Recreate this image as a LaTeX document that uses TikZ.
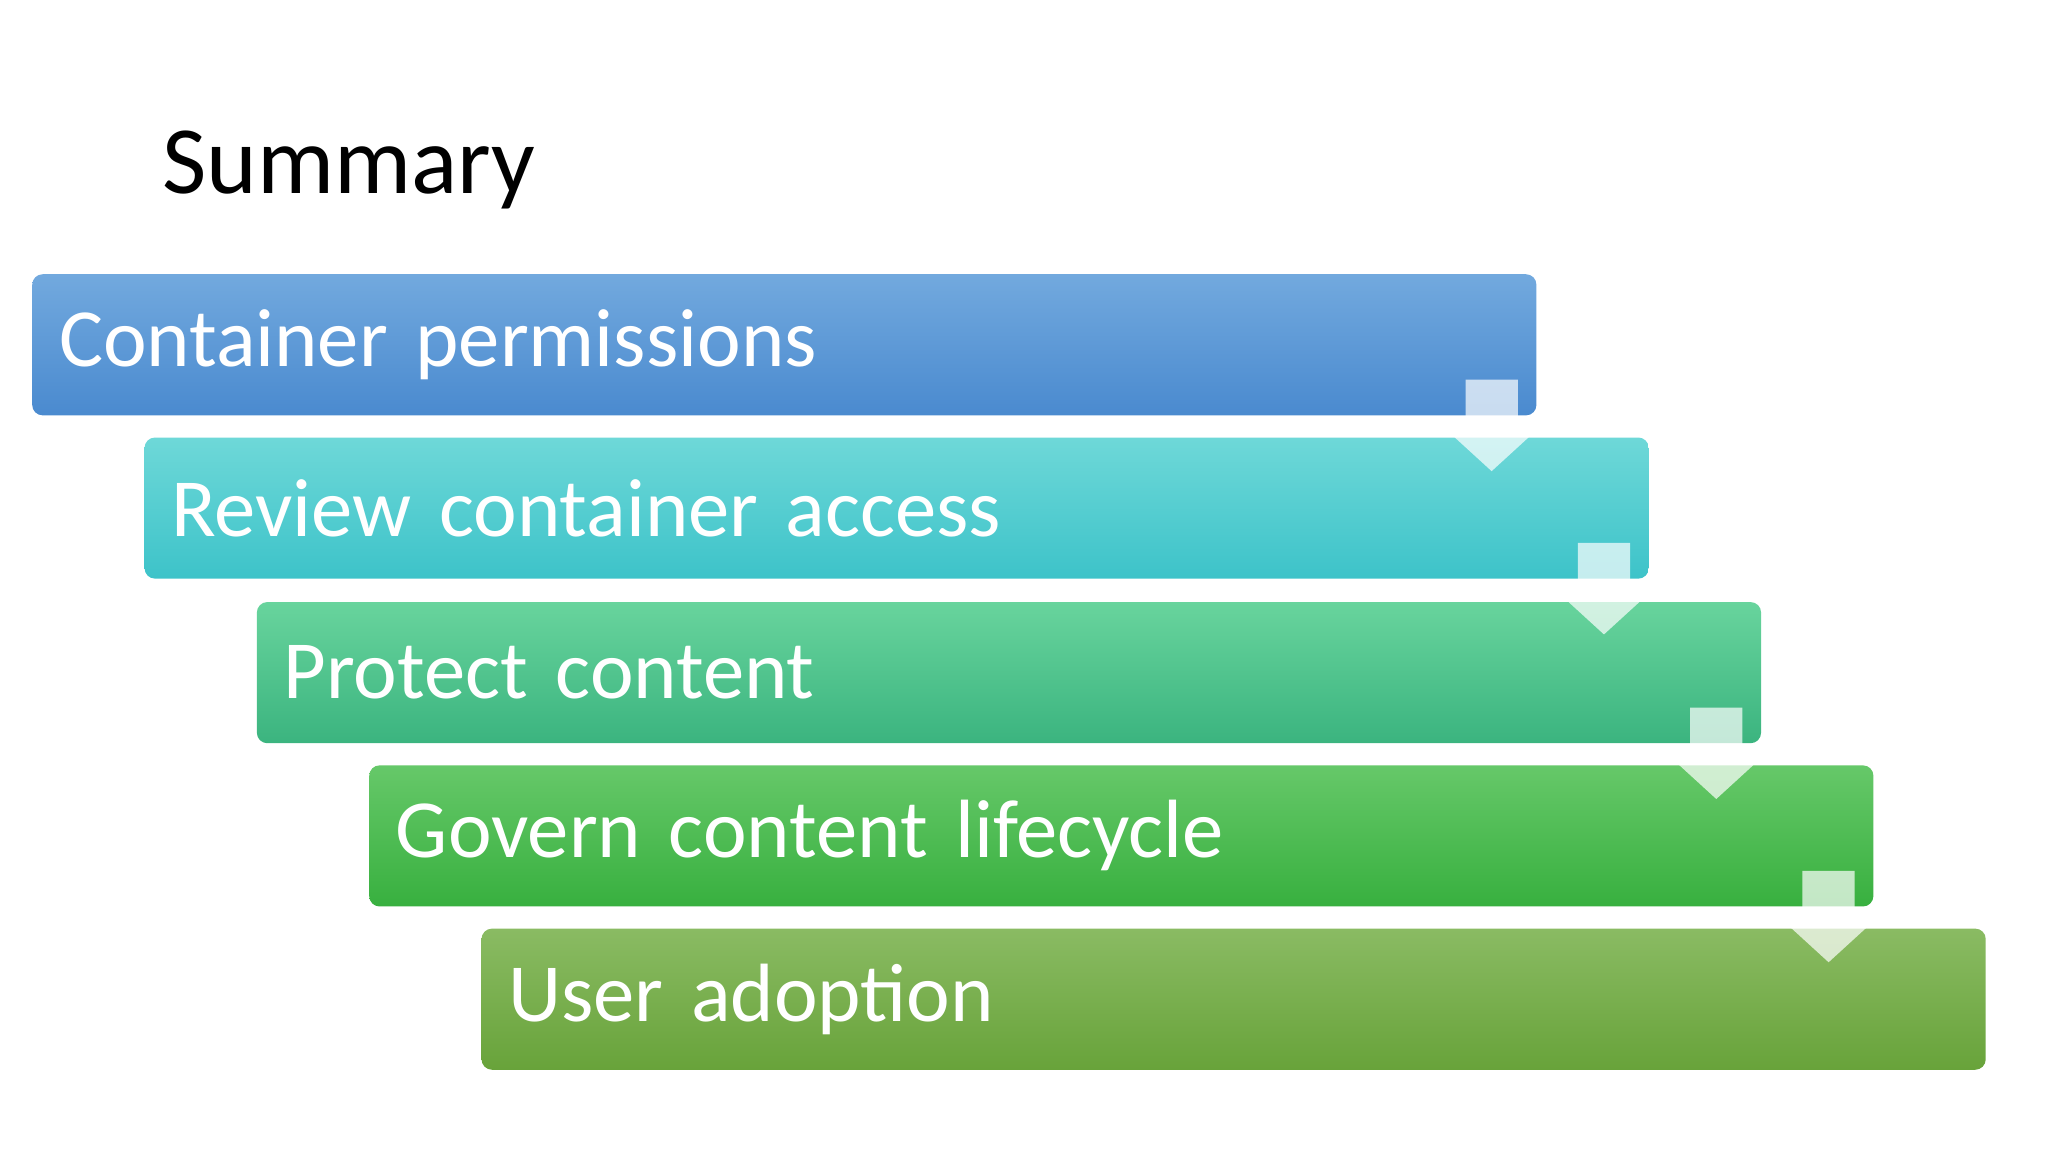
\documentclass[tikz,border=0pt]{standalone}
\usepackage{fontspec}
\setmainfont{Carlito}
\usetikzlibrary{positioning}
\definecolor{topA}{HTML}{72A9DE}\definecolor{botA}{HTML}{4A8ACF}
\definecolor{topB}{HTML}{6ED8D8}\definecolor{botB}{HTML}{3DC3C9}
\definecolor{topC}{HTML}{68D49D}\definecolor{botC}{HTML}{3BB47F}
\definecolor{topD}{HTML}{66C869}\definecolor{botD}{HTML}{38B03F}
\definecolor{topE}{HTML}{8ABB63}\definecolor{botE}{HTML}{68A33A}
\tikzset{
  stage/.style={rectangle, rounded corners=0.08cm, minimum width=11.51cm, minimum height=1.08cm,
    text width=11.1cm, align=left, text=white, font=\fontsize{18}{20}\selectfont},
  downarrow/.style={fill=white, fill opacity=0.7}
}
\begin{document}
\begin{tikzpicture}[x=0.01cm, y=-0.01cm]
			\useasboundingbox (0,0) rectangle (1568,882);
			\node[anchor=west, font=\fontsize{21}{24}\selectfont] (title) at (112,130) {Summary};
			
			\node[stage, top color=topA, bottom color=botA] (a) at (600.5,264) {Container permissions};
			\node[stage, top color=topB, bottom color=botB] (b) at (686.5,389) {Review container access};
			\node[stage, top color=topC, bottom color=botC] (c) at (772.5,515) {Protect content};
			\node[stage, top color=topD, bottom color=botD] (d) at (858.5,640) {Govern content lifecycle};
			\node[stage, top color=topE, bottom color=botE] (e) at (944.5,765) {User adoption};
			
			\foreach \u in {a,b,c,d}
			  \fill[downarrow] ([shift={(-55,-28)}]\u.south east) -- ++(40,0) -- ++(0,38) -- ++(15,0)
			    -- ++(-35,32) -- ++(-35,-32) -- ++(15,0) -- cycle;
\end{tikzpicture}
\end{document}
